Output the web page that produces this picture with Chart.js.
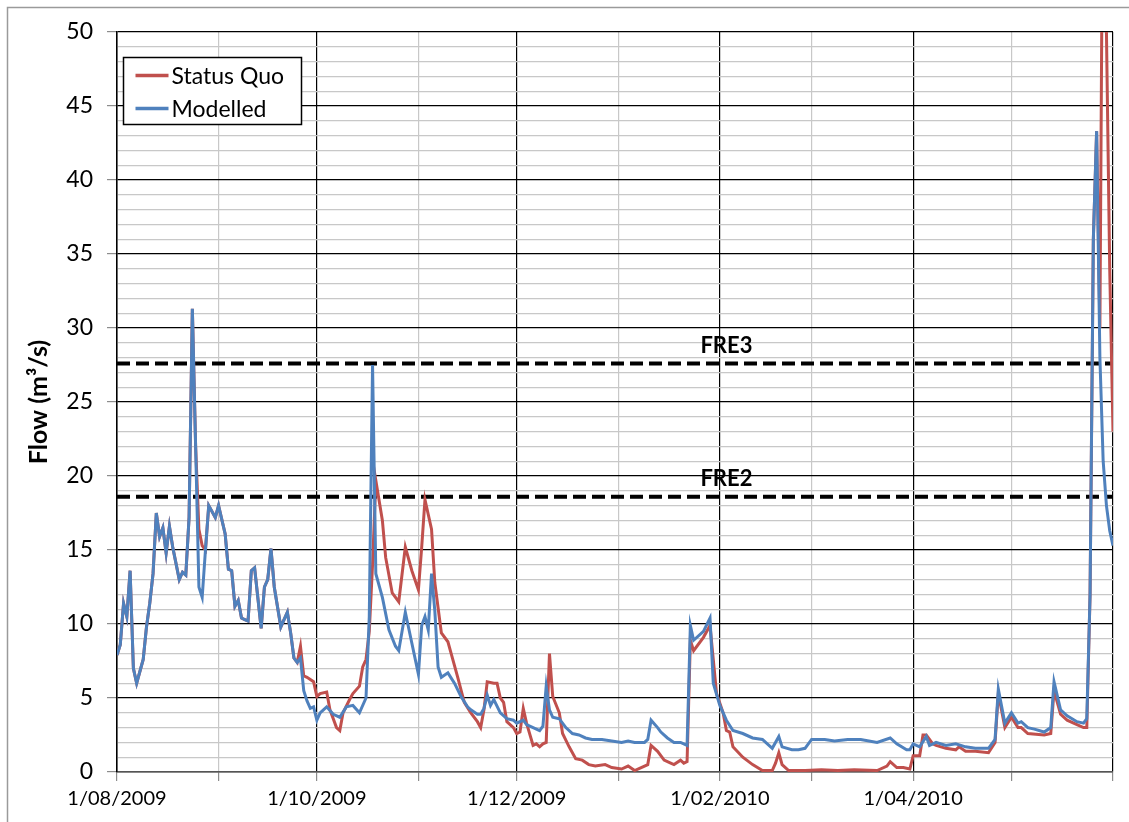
<!DOCTYPE html>
<html>
<head>
<meta charset="utf-8">
<title>Flow - Status Quo vs Modelled</title>
<script src="https://cdn.jsdelivr.net/npm/chart.js@4.4.1/dist/chart.umd.min.js"></script>
<style>
    html, body { margin: 0; padding: 0; background: #fff; }
    #wrap { width: 1129px; height: 822px; position: relative; }
</style>
</head>
<body>
<div id="wrap"><canvas id="flow-chart" width="1129" height="822"></canvas></div>
<script>
// days counted from 1/08/2009
const monthStarts = [0, 31, 61, 92, 122, 153, 184, 212, 243, 273, 304];
const monthLabels = ['1/08/2009', '', '1/10/2009', '', '1/12/2009', '', '1/02/2010', '', '1/04/2010', '', ''];

const statusQuoDays = [0, 1, 2, 3, 4, 5, 6, 8, 9, 10, 11, 12, 13, 14, 15, 16, 17, 19, 20, 21, 22, 23, 24, 25, 26, 27, 28, 30, 31, 33, 34, 35, 36, 37, 38, 39, 40, 41, 42, 44, 45, 46, 47, 48, 50, 52, 53, 54, 55, 56, 57, 58, 60, 61, 62, 64, 65, 67, 68, 69, 71, 72, 74, 75, 76, 77, 78, 79, 81, 82, 84, 86, 88, 90, 92, 93, 94, 96, 97, 99, 101, 102, 104, 106, 108, 110, 111, 112, 113, 115, 116, 117, 118, 119, 121, 122, 123, 124, 125, 127, 128, 129, 130, 131, 132, 133, 135, 136, 138, 140, 142, 144, 146, 149, 151, 154, 156, 158, 160, 162, 163, 165, 167, 169, 170, 172, 173, 174, 175, 176, 179, 181, 182, 183, 185, 186, 187, 188, 191, 194, 197, 200, 201, 202, 203, 205, 210, 215, 220, 225, 232, 235, 236, 238, 240, 242, 243, 245, 246, 247, 249, 250, 253, 256, 257, 259, 262, 266, 268, 269, 271, 273, 275, 276, 278, 283, 285, 286, 288, 290, 293, 295, 296, 297, 298, 299, 300, 301, 302, 303, 304];
const statusQuoFlow = [7.9, 8.6, 11.4, 10.5, 13.6, 7.0, 6.0, 7.6, 9.8, 11.4, 13.4, 17.5, 15.9, 16.5, 14.8, 16.6, 15.2, 13.0, 13.5, 13.3, 17.2, 31.3, 22.0, 16.4, 15.3, 15.0, 18.0, 17.2, 18.0, 16.1, 13.7, 13.6, 11.2, 11.6, 10.4, 10.3, 10.2, 13.6, 13.8, 9.7, 12.5, 13.0, 15.1, 12.5, 9.8, 10.8, 9.4, 7.7, 7.4, 8.5, 6.5, 6.4, 6.1, 5.1, 5.3, 5.4, 4.2, 3.0, 2.8, 4.0, 4.9, 5.3, 5.8, 7.1, 7.6, 9.5, 14.0, 19.7, 17.0, 14.5, 12.1, 11.5, 15.2, 13.6, 12.3, 15.2, 18.4, 16.4, 12.8, 9.4, 8.8, 8.0, 6.4, 4.7, 4.0, 3.4, 3.0, 4.2, 6.1, 6.0, 6.0, 5.0, 4.7, 3.4, 3.0, 2.6, 2.7, 4.3, 3.3, 1.8, 1.9, 1.7, 1.9, 2.0, 8.0, 5.1, 4.0, 2.6, 1.7, 0.9, 0.8, 0.5, 0.4, 0.5, 0.3, 0.2, 0.4, 0.1, 0.3, 0.5, 1.8, 1.4, 0.8, 0.6, 0.5, 0.8, 0.6, 0.7, 8.9, 8.2, 9.1, 9.9, 7.6, 5.3, 4.0, 2.8, 2.7, 1.7, 1.0, 0.5, 0.1, 0.1, 0.6, 1.3, 0.5, 0.1, 0.1, 0.15, 0.1, 0.15, 0.1, 0.4, 0.7, 0.3, 0.3, 0.2, 1.1, 1.1, 2.5, 2.5, 1.9, 1.8, 1.6, 1.5, 1.7, 1.4, 1.4, 1.3, 2.0, 5.3, 3.0, 3.7, 3.0, 3.0, 2.6, 2.5, 2.6, 5.5, 3.9, 3.5, 3.2, 3.0, 3.0, 12.0, 36.0, 43.3, 30.0, 66.0, 50.0, 34.0, 23.0];

const modelledDays = [0, 1, 2, 3, 4, 5, 6, 8, 9, 10, 11, 12, 13, 14, 15, 16, 17, 19, 20, 21, 22, 23, 24, 25, 26, 27, 28, 30, 31, 33, 34, 35, 36, 37, 38, 39, 40, 41, 42, 44, 45, 46, 47, 48, 50, 52, 53, 54, 55, 56, 57, 58, 59, 60, 61, 62, 64, 66, 68, 70, 72, 74, 76, 77, 78, 79, 81, 83, 85, 86, 88, 90, 92, 93, 94, 95, 96, 97, 98, 99, 101, 103, 105, 107, 108, 110, 111, 112, 113, 114, 115, 117, 119, 121, 122, 124, 125, 127, 129, 130, 131, 132, 133, 135, 137, 139, 141, 143, 145, 148, 151, 154, 156, 158, 161, 162, 163, 165, 166, 168, 170, 172, 173, 174, 175, 176, 179, 181, 182, 184, 186, 188, 191, 194, 197, 200, 202, 203, 206, 208, 210, 212, 216, 219, 223, 227, 232, 236, 238, 241, 242, 243, 245, 247, 248, 250, 253, 256, 259, 262, 266, 268, 269, 271, 273, 275, 276, 278, 280, 283, 285, 286, 288, 290, 293, 295, 296, 297, 298, 299, 300, 301, 302, 303, 304];
const modelledFlow = [7.9, 8.6, 11.4, 10.5, 13.6, 7.0, 6.0, 7.6, 9.8, 11.4, 13.4, 17.5, 15.9, 16.5, 14.8, 16.6, 15.2, 13.0, 13.5, 13.3, 17.2, 31.3, 22.0, 12.5, 11.8, 15.0, 18.0, 17.2, 18.0, 16.1, 13.7, 13.6, 11.2, 11.6, 10.4, 10.3, 10.2, 13.6, 13.8, 9.7, 12.5, 13.0, 15.1, 12.5, 9.8, 10.8, 9.4, 7.7, 7.4, 7.7, 5.5, 4.8, 4.3, 4.4, 3.5, 4.0, 4.4, 3.9, 3.7, 4.4, 4.5, 4.0, 5.0, 10.5, 27.5, 13.4, 11.8, 9.6, 8.5, 8.2, 10.8, 8.7, 6.6, 9.9, 10.5, 9.6, 13.4, 10.9, 7.1, 6.4, 6.7, 6.0, 5.1, 4.4, 4.2, 3.9, 3.9, 4.3, 5.2, 4.5, 4.9, 4.0, 3.6, 3.5, 3.3, 3.5, 3.2, 3.0, 2.8, 3.1, 5.8, 4.2, 3.7, 3.6, 3.0, 2.6, 2.5, 2.3, 2.2, 2.2, 2.1, 2.0, 2.1, 2.0, 2.0, 2.2, 3.5, 3.0, 2.7, 2.3, 2.0, 2.0, 1.9, 1.8, 9.9, 8.9, 9.5, 10.4, 6.0, 4.5, 3.5, 2.8, 2.6, 2.3, 2.2, 1.6, 2.4, 1.7, 1.5, 1.5, 1.6, 2.2, 2.2, 2.1, 2.2, 2.2, 2.0, 2.3, 1.9, 1.5, 1.5, 1.9, 1.7, 2.4, 1.8, 2.0, 1.8, 1.9, 1.7, 1.6, 1.6, 2.2, 5.6, 3.3, 4.0, 3.3, 3.4, 3.0, 2.9, 2.7, 3.0, 6.1, 4.2, 3.8, 3.4, 3.3, 3.6, 12.0, 36.0, 43.3, 28.0, 21.0, 18.0, 16.3, 15.3];

const freNames = ['FRE3', 'FRE2'];
const freLevels = [27.6, 18.6];

const yTickStep = 1;
const yMajorStep = 5;

const FONT = 'Lato, "Open Sans", sans-serif';

function toPoints(days, values) {
    return days.map((d, i) => ({ x: d, y: values[i] }));
}

document.addEventListener('DOMContentLoaded', function() {
    const ctx = document.getElementById('flow-chart').getContext('2d');

    const datasets = [
        {
            label: 'Status Quo',
            data: toPoints(statusQuoDays, statusQuoFlow),
            borderColor: '#C0504D',
            borderWidth: 3,
            order: 2,
            clip: 0
        },
        {
            label: 'Modelled',
            data: toPoints(modelledDays, modelledFlow),
            borderColor: '#4F81BD',
            borderWidth: 3,
            order: 1,
            clip: 0
        }
    ];
    freLevels.forEach(function(level, i) {
        datasets.push({
            label: freNames[i],
            data: [{ x: monthStarts[0], y: level }, { x: monthStarts[monthStarts.length - 1], y: level }],
            borderColor: '#000',
            borderWidth: 4,
            borderDash: [13, 6],
            order: 3,
            isThreshold: true
        });
    });

    // grey frame round the whole picture
    const framePlugin = {
        id: 'frame',
        beforeDraw(chart) {
            const c = chart.ctx;
            c.save();
            c.strokeStyle = '#9a9a9a';
            c.lineWidth = 1.5;
            c.beginPath();
            c.moveTo(7.5, chart.height);
            c.lineTo(7.5, 7.5);
            c.lineTo(chart.width, 7.5);
            c.stroke();
            c.restore();
        }
    };

    // FRE labels sit just above their dashed lines
    const freLabelPlugin = {
        id: 'freLabels',
        afterDatasetsDraw(chart) {
            const c = chart.ctx;
            const xs = chart.scales.x;
            const ys = chart.scales.y;
            c.save();
            c.font = 'bold 22px ' + FONT;
            c.fillStyle = '#000';
            c.textAlign = 'center';
            c.textBaseline = 'middle';
            chart.data.datasets.forEach(function(ds) {
                if (!ds.isThreshold) return;
                const y = ys.getPixelForValue(ds.data[0].y);
                c.fillText(ds.label, xs.getPixelForValue(186), y - 18);
            });
            c.restore();
        }
    };

    // boxed legend in the top-left corner of the plot
    const boxLegendPlugin = {
        id: 'boxLegend',
        afterDraw(chart) {
            const c = chart.ctx;
            const area = chart.chartArea;
            const left = area.left + 6.5, top = area.top + 25.5;
            const w = 178, h = 67;
            c.save();
            c.fillStyle = '#fff';
            c.fillRect(left, top, w, h);
            c.strokeStyle = '#000';
            c.lineWidth = 1.5;
            c.strokeRect(left, top, w, h);
            c.font = '23px ' + FONT;
            c.textBaseline = 'middle';
            c.textAlign = 'left';
            const items = chart.data.datasets.filter(ds => !ds.isThreshold);
            items.forEach(function(ds, i) {
                const y = top + 18 + i * 33;
                c.strokeStyle = ds.borderColor;
                c.lineWidth = 3.5;
                c.beginPath();
                c.moveTo(left + 12, y);
                c.lineTo(left + 45, y);
                c.stroke();
                c.fillStyle = '#000';
                c.fillText(ds.label, left + 48, y + 1);
            });
            c.restore();
        }
    };

    new Chart(ctx, {
        type: 'line',
        data: { datasets: datasets },
        options: {
            responsive: false,
            animation: false,
            events: [],
            layout: { padding: { top: 32, right: 16, left: 0, bottom: 0 } },
            elements: {
                point: { radius: 0 },
                line: { tension: 0, fill: false }
            },
            plugins: {
                legend: { display: false },
                tooltip: { enabled: false }
            },
            scales: {
                x: {
                    type: 'linear',
                    min: monthStarts[0],
                    max: monthStarts[monthStarts.length - 1],
                    afterBuildTicks(scale) {
                        scale.ticks = monthStarts.map(v => ({ value: v }));
                    },
                    afterFit(scale) { scale.height = 50; },
                    ticks: {
                        autoSkip: false,
                        maxRotation: 0,
                        padding: 6,
                        color: '#000',
                        font: { family: FONT, size: 20 },
                        callback: (value, index) => monthLabels[index]
                    },
                    grid: {
                        color: c => (c.index % 2 === 0 ? '#000' : '#c8c8c8'),
                        lineWidth: 1.2,
                        tickLength: 9,
                        tickColor: '#8c8c8c'
                    },
                    border: { color: '#555', width: 1.5 }
                },
                y: {
                    min: 0,
                    max: 50,
                    afterFit(scale) { scale.width = 117; },
                    title: {
                        display: true,
                        text: 'Flow (m³/s)',
                        color: '#000',
                        font: { family: FONT, size: 25, weight: 'bold' },
                        padding: { top: 24, bottom: 0 }
                    },
                    ticks: {
                        stepSize: yTickStep,
                        maxTicksLimit: 60,
                        autoSkip: false,
                        padding: 14,
                        color: '#000',
                        font: { family: FONT, size: 23 },
                        callback: v => (v % yMajorStep === 0 ? v : '')
                    },
                    grid: {
                        color: c => (c.tick.value % yMajorStep === 0 ? '#000' : '#c8c8c8'),
                        lineWidth: 1.2,
                        tickLength: 10,
                        tickColor: c => (c.tick.value % yMajorStep === 0 ? '#8c8c8c' : 'rgba(0,0,0,0)')
                    },
                    border: { color: '#000', width: 1.5 }
                }
            }
        },
        plugins: [framePlugin, freLabelPlugin, boxLegendPlugin]
    });
});
</script>
</body>
</html>
